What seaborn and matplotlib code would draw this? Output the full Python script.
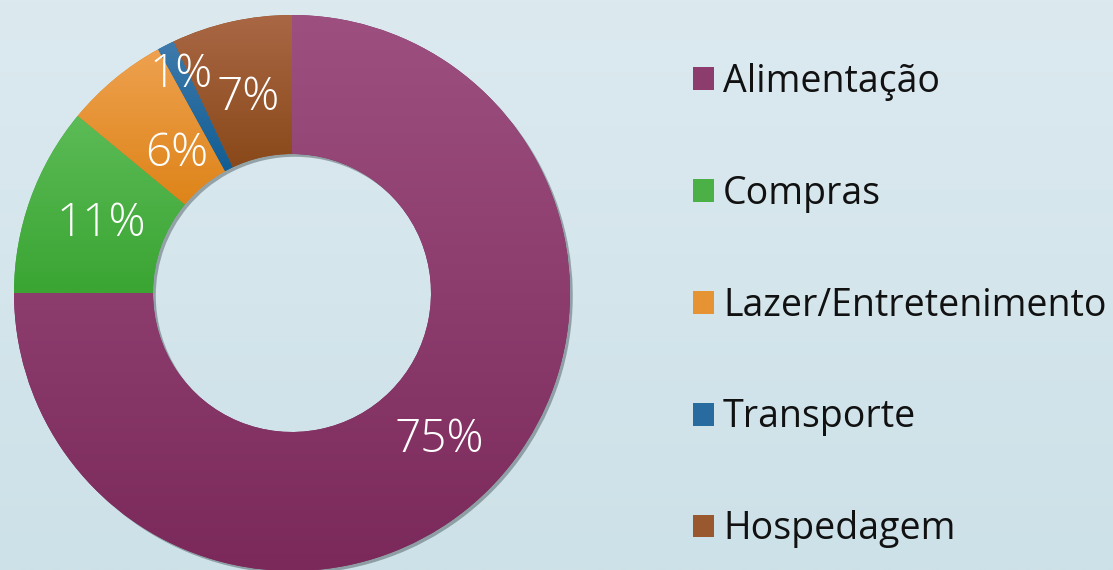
import numpy as np
import matplotlib
matplotlib.use("Agg")
import matplotlib.pyplot as plt
import matplotlib.patheffects as pe
from matplotlib.colors import LinearSegmentedColormap, to_rgb
from matplotlib.patches import Patch
import seaborn as sns

categories = ["Alimentação", "Compras", "Lazer/Entretenimento", "Transporte", "Hospedagem"]
shares = [75, 11, 6, 1, 7]
pct_labels = ["75%", "11%", "6%", "1%", "7%"]
top_colors = ["#9d5080", "#5cbb56", "#eea14f", "#3f7aac", "#a96745"]
bottom_colors = ["#7b295b", "#3aa533", "#de8419", "#115d92", "#8a4919"]
label_radius = [0.75, 0.73, 0.65, 0.88, 0.72]

sns.set_theme(style="white")
plt.rcParams["font.family"] = ["Open Sans", "DejaVu Sans"]

fig = plt.figure(figsize=(11.13, 5.70), dpi=100)

# background gradient
bg = fig.add_axes([0, 0, 1, 1], zorder=-10)
bg_cmap = LinearSegmentedColormap.from_list("bg", ["#dceaf0", "#cde1e8"])
bg.imshow(np.linspace(0, 1, 256).reshape(-1, 1), aspect="auto", cmap=bg_cmap,
          extent=[0, 1, 0, 1], origin="upper")
bg.axis("off")

# donut
ax = fig.add_axes([14 / 1113, -1 / 570, 556 / 1113, 556 / 570])
wedges, _ = ax.pie(shares, startangle=90, counterclock=False, radius=1,
                   colors=bottom_colors,
                   wedgeprops=dict(width=0.5, edgecolor="none"))

shadow = [pe.SimplePatchShadow(offset=(2, -2), shadow_rgbFace="#2e3c40", alpha=0.4),
          pe.Normal()]
for w, c_top, c_bot in zip(wedges, top_colors, bottom_colors):
    w.set_path_effects(shadow)
    # vertical gradient inside each wedge
    ext = w.get_path().get_extents()
    cmap = LinearSegmentedColormap.from_list("g", [c_top, c_bot])
    im = ax.imshow(np.linspace(0, 1, 128).reshape(-1, 1), cmap=cmap, aspect="auto",
                   extent=[ext.x0, ext.x1, ext.y0, ext.y1], origin="upper", zorder=3)
    im.set_clip_path(w)

for w, txt, r in zip(wedges, pct_labels, label_radius):
    mid = np.deg2rad((w.theta1 + w.theta2) / 2)
    ax.text(r * np.cos(mid), r * np.sin(mid), txt, ha="center", va="center",
            color="white", fontsize=33, fontweight="light", zorder=5)

ax.set_xlim(-1, 1)
ax.set_ylim(-1, 1)
ax.set_aspect("equal")
ax.axis("off")

# legend
handles = []
for c_top, c_bot in zip(top_colors, bottom_colors):
    mix = tuple((a + b) / 2 for a, b in zip(to_rgb(c_top), to_rgb(c_bot)))
    handles.append(Patch(facecolor=mix, edgecolor="none"))
leg = fig.legend(handles, categories, loc="center left", bbox_to_anchor=(693 / 1113, 0.464),
                 frameon=False, fontsize=27, handlelength=0.56, handleheight=0.56,
                 handletextpad=0.24, labelspacing=1.97, borderpad=0, borderaxespad=0)
for t in leg.get_texts():
    t.set_color("#111111")

fig.savefig("out.png", dpi=100)
